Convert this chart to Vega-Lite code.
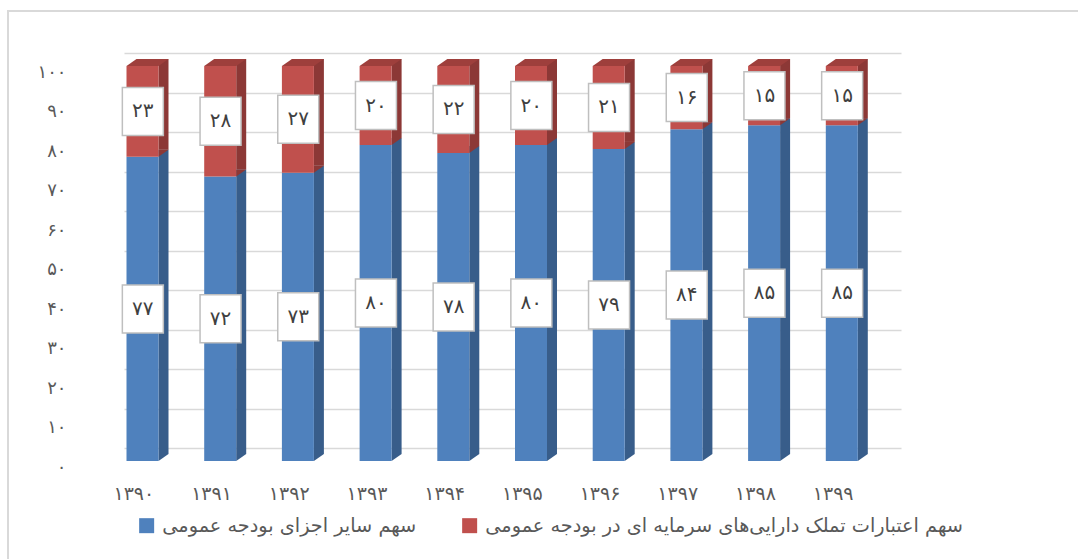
{
  "$schema": "https://vega.github.io/schema/vega-lite/v6.json",
  "width": 1070,
  "height": 548,
  "autosize": {"type": "none"},
  "padding": {"left": 8, "top": 11, "right": 0, "bottom": 0},
  "background": "white",
  "config": {
    "view": {"stroke": "#d9d9d9", "strokeWidth": 2, "strokeDash": [1070, 1618, 548]},
    "font": "DejaVu Sans",
    "locale": {
      "number": {
        "decimal": ".",
        "thousands": ",",
        "grouping": [3],
        "currency": ["", ""],
        "numerals": ["۰", "۱", "۲", "۳", "۴", "۵", "۶", "۷", "۸", "۹"]
      }
    }
  },
  "data": {
    "values": [
      {"year": "۱۳۹۰", "series": "سهم سایر اجزای بودجه عمومی", "value": 77},
      {"year": "۱۳۹۰", "series": "سهم اعتبارات تملک دارایی‌های سرمایه ای در بودجه عمومی", "value": 23},
      {"year": "۱۳۹۱", "series": "سهم سایر اجزای بودجه عمومی", "value": 72},
      {"year": "۱۳۹۱", "series": "سهم اعتبارات تملک دارایی‌های سرمایه ای در بودجه عمومی", "value": 28},
      {"year": "۱۳۹۲", "series": "سهم سایر اجزای بودجه عمومی", "value": 73},
      {"year": "۱۳۹۲", "series": "سهم اعتبارات تملک دارایی‌های سرمایه ای در بودجه عمومی", "value": 27},
      {"year": "۱۳۹۳", "series": "سهم سایر اجزای بودجه عمومی", "value": 80},
      {"year": "۱۳۹۳", "series": "سهم اعتبارات تملک دارایی‌های سرمایه ای در بودجه عمومی", "value": 20},
      {"year": "۱۳۹۴", "series": "سهم سایر اجزای بودجه عمومی", "value": 78},
      {"year": "۱۳۹۴", "series": "سهم اعتبارات تملک دارایی‌های سرمایه ای در بودجه عمومی", "value": 22},
      {"year": "۱۳۹۵", "series": "سهم سایر اجزای بودجه عمومی", "value": 80},
      {"year": "۱۳۹۵", "series": "سهم اعتبارات تملک دارایی‌های سرمایه ای در بودجه عمومی", "value": 20},
      {"year": "۱۳۹۶", "series": "سهم سایر اجزای بودجه عمومی", "value": 79},
      {"year": "۱۳۹۶", "series": "سهم اعتبارات تملک دارایی‌های سرمایه ای در بودجه عمومی", "value": 21},
      {"year": "۱۳۹۷", "series": "سهم سایر اجزای بودجه عمومی", "value": 84},
      {"year": "۱۳۹۷", "series": "سهم اعتبارات تملک دارایی‌های سرمایه ای در بودجه عمومی", "value": 16},
      {"year": "۱۳۹۸", "series": "سهم سایر اجزای بودجه عمومی", "value": 85},
      {"year": "۱۳۹۸", "series": "سهم اعتبارات تملک دارایی‌های سرمایه ای در بودجه عمومی", "value": 15},
      {"year": "۱۳۹۹", "series": "سهم سایر اجزای بودجه عمومی", "value": 85},
      {"year": "۱۳۹۹", "series": "سهم اعتبارات تملک دارایی‌های سرمایه ای در بودجه عمومی", "value": 15}
    ]
  },
  "encoding": {
    "x": {
      "field": "year",
      "type": "nominal",
      "sort": null,
      "scale": {"paddingInner": 0, "paddingOuter": 0, "range": [116, 893]},
      "axis": {
        "title": null,
        "domain": false,
        "ticks": false,
        "labelAngle": 0,
        "labelFont": "DejaVu Sans",
        "labelFontSize": 19,
        "labelColor": "#595959",
        "labelBaseline": "middle",
        "labelPadding": -66,
        "labelOffset": -29
      }
    },
    "y": {
      "field": "value",
      "type": "quantitative",
      "stack": "zero",
      "scale": {"domain": [0, 100], "nice": false, "range": [437, 42]},
      "axis": {
        "title": null,
        "domain": false,
        "ticks": false,
        "tickCount": 10,
        "format": "d",
        "grid": true,
        "gridColor": "#d9d9d9",
        "gridWidth": 1.5,
        "labelFont": "DejaVu Sans",
        "labelFontSize": 18,
        "labelColor": "#595959",
        "labelAlign": "right",
        "labelPadding": -58,
        "labelOffset": 19
      }
    },
    "detail": {"field": "series"},
    "order": {"field": "series", "sort": "descending"}
  },
  "layer": [
    {
      "mark": {"type": "bar", "width": 10, "xOffset": 0.65, "yOffset": 6, "y2Offset": 6},
      "encoding": {
        "color": {
          "condition": {"test": "indexof(datum.series, 'سایر') >= 0", "value": "#385d8a"},
          "value": "#8c3836"
        }
      }
    },
    {
      "mark": {"type": "point", "shape": "M16,0L16,-7L26,-7Z", "size": 4, "filled": true, "opacity": 1, "xOffset": -20.35, "yOffset": 13},
      "encoding": {
        "y": {"field": "value", "type": "quantitative", "stack": "zero", "bandPosition": 0},
        "color": {
          "condition": {"test": "indexof(datum.series, 'سایر') >= 0", "value": "#385d8a"},
          "value": "#8c3836"
        }
      }
    },
    {
      "mark": {"type": "bar", "width": 32, "xOffset": -20.35, "yOffset": 13, "y2Offset": 13},
      "encoding": {
        "color": {
          "field": "series",
          "type": "nominal",
          "scale": {
            "domain": ["سهم سایر اجزای بودجه عمومی", "سهم اعتبارات تملک دارایی‌های سرمایه ای در بودجه عمومی"],
            "range": ["#4f81bd", "#c0504d"]
          },
          "legend": {
            "title": null,
            "orient": "none",
            "direction": "horizontal",
            "legendX": 129,
            "legendY": 505,
            "padding": 0,
            "symbolType": "square",
            "symbolSize": 225,
            "symbolStrokeWidth": 0,
            "labelFont": "DejaVu Sans",
            "labelFontSize": 19.3,
            "labelColor": "#595959",
            "labelLimit": 700,
            "labelOffset": 6,
            "columnPadding": 43
          }
        }
      }
    },
    {
      "mark": {"type": "point", "shape": "M-16,0L16,0L26,-7L-6,-7Z", "size": 4, "filled": true, "color": "#9e3f3c", "xOffset": -20.35, "yOffset": 13},
      "encoding": {
        "opacity": {
          "condition": {"test": "indexof(datum.series, 'سایر') >= 0", "value": 0},
          "value": 1
        }
      }
    },
    {
      "mark": {"type": "point", "shape": "M-20.5,-24H20.5V24H-20.5Z", "size": 4, "filled": false, "fill": "white", "fillOpacity": 1, "opacity": 1, "stroke": "#bfbfbf", "strokeWidth": 1.5, "xOffset": -20, "yOffset": 13},
      "encoding": {
        "y": {"field": "value", "type": "quantitative", "stack": "zero", "bandPosition": 0.5}
      }
    },
    {
      "mark": {"type": "text", "font": "DejaVu Sans", "fontSize": 20, "color": "#404040", "align": "center", "baseline": "middle", "xOffset": -20, "yOffset": 13},
      "encoding": {
        "y": {"field": "value", "type": "quantitative", "stack": "zero", "bandPosition": 0.5},
        "text": {"field": "value", "type": "quantitative", "format": "d"}
      }
    }
  ]
}
